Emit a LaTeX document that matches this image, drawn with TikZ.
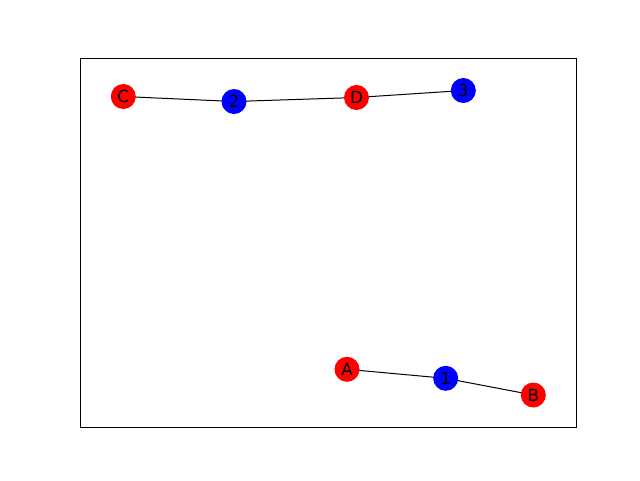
\documentclass[tikz,border=0pt]{standalone}
\usepackage{fontspec}
\setmainfont{DejaVu Sans}
\begin{document}
\begin{tikzpicture}[x=1pt,y=-1pt,
  vred/.style={circle,fill=red,draw=none,minimum size=25pt,inner sep=0pt,font=\fontsize{16.7}{20}\selectfont},
  vblue/.style={circle,fill=blue,draw=none,minimum size=25pt,inner sep=0pt,font=\fontsize{16.7}{20}\selectfont},
  edge/.style={draw=black,line width=1pt}]
\useasboundingbox (0,0) rectangle (640,480);
\draw[line width=0.8pt] (80,58) rectangle (576,427);
\coordinate (pC) at (123.3,96.5);
\coordinate (p2) at (234,101.5);
\coordinate (pD) at (356.5,97.5);
\coordinate (p3) at (463.3,90.5);
\coordinate (pA) at (347,369.3);
\coordinate (p1) at (445.7,378.3);
\coordinate (pB) at (533.3,395);
\draw[edge] (pC) -- (p2) -- (pD) -- (p3);
\draw[edge] (pA) -- (p1) -- (pB);
\node[vred] (C) at (pC) {C};
\node[vblue] (n2) at (p2) {2};
\node[vred] (D) at (pD) {D};
\node[vblue] (n3) at (p3) {3};
\node[vred] (A) at (pA) {A};
\node[vblue] (n1) at (p1) {1};
\node[vred] (B) at (pB) {B};
\end{tikzpicture}
\end{document}
